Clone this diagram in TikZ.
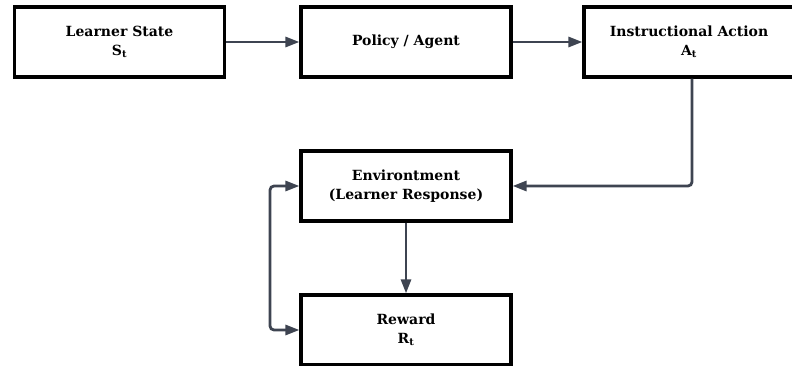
\documentclass[tikz,border=0pt]{standalone}
\usepackage{fontspec}
\setmainfont{DejaVu Serif}
\usetikzlibrary{arrows.meta}
\definecolor{arr}{HTML}{3E4451}
\begin{document}
\begin{tikzpicture}[x=1pt,y=-1pt,
  box/.style={draw=black,line width=3.2pt,fill=white,minimum width=210pt,minimum height=70pt,inner sep=0pt,align=center,font=\bfseries\fontsize{14}{19}\selectfont},
  tip/.style={Triangle[length=14pt,width=10pt]},
  conn/.style={draw=arr,line width=2.8pt,rounded corners=4pt,-{Triangle[length=14pt,width=10pt]}}]
\useasboundingbox (0,0) rectangle (792,366);
\node[box] (ls) at (119.5,42) {Learner State\\S\textsubscript{t}};
\node[box] (pa) at (406,42) {Policy / Agent};
\node[box] (ia) at (689,42) {Instructional Action\\A\textsubscript{t}};
\node[box] (env) at (406,186) {Environtment\\(Learner Response)};
\node[box] (rw) at (406,330) {Reward\\R\textsubscript{t}};
\draw[conn] (ls.east) -- (pa.west);
\draw[conn] (pa.east) -- (ia.west);
\draw[conn] (ia.south -| 692,0) |- (env.east);
\draw[conn] (env.south) -- (rw.north);
\coordinate (lx) at (270,0);
\draw[conn,{Triangle[length=14pt,width=10pt]}-{Triangle[length=14pt,width=10pt]}] (env.west) -| (lx |- rw.west) -- (rw.west);
\end{tikzpicture}
\end{document}
